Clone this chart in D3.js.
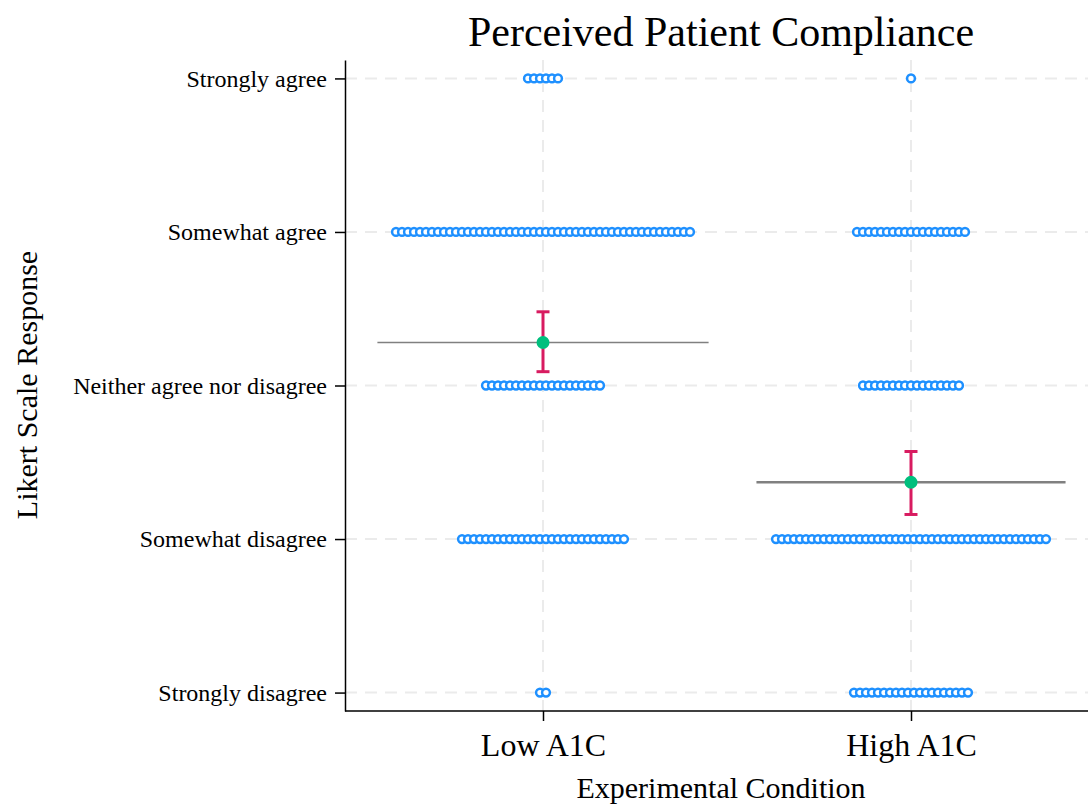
<!DOCTYPE html>
<html>
<head>
<meta charset="utf-8">
<script src="https://cdn.jsdelivr.net/npm/d3@7"></script>
<style>
  body { margin: 0; background: #ffffff; }
  text { font-family: "Liberation Serif", "Times New Roman", serif; fill: #000; }
</style>
</head>
<body>
<div id="chart"></div>
<script>
// Likert levels, bottom (1) to top (5)
const levels = ["Strongly disagree", "Somewhat disagree", "Neither agree nor disagree", "Somewhat agree", "Strongly agree"]
const conditions = ["Low A1C", "High A1C"]

// number of respondents at each level (same order as levels), per condition
const lowCounts = [2, 28, 20, 50, 6]
const highCounts = [20, 46, 17, 19, 1]

// summary marks
const meanValues = [3.28, 2.37]
const ciLower = [3.09, 2.16]
const ciUpper = [3.48, 2.57]
const meanLineHalfWidth = [0.45, 0.42]

function drawChart() {
    const width = 1088
    const height = 807

    const dimensions = {
        width: width,
        height: height,
        plotLeft: 345,
        plotRight: 1088,
        plotTop: 60,
        plotBottom: 711
    }

    const svg = d3.select("#chart").append("svg")
        .attr("width", dimensions.width)
        .attr("height", dimensions.height)

    const yScale = d3.scaleLinear()
        .domain([0.88, 5.12])
        .range([dimensions.plotBottom, dimensions.plotTop])

    // condition index 1,2 on a continuous scale so dots can be offset in data units
    const xScale = d3.scaleLinear()
        .domain([1, 2])
        .range([543, 911])

    const dotStep = 6 / (xScale(2) - xScale(1))

    // grid
    const grid = svg.append("g")
    grid.selectAll(".hgrid")
        .data(levels)
        .join("line")
        .attr("x1", dimensions.plotLeft)
        .attr("x2", dimensions.plotRight)
        .attr("y1", (d, i) => yScale(i + 1))
        .attr("y2", (d, i) => yScale(i + 1))
        .attr("stroke", "#ebebeb")
        .attr("stroke-width", 2)
        .attr("stroke-dasharray", "12,8")
    grid.selectAll(".vgrid")
        .data(conditions)
        .join("line")
        .attr("x1", (d, i) => xScale(i + 1))
        .attr("x2", (d, i) => xScale(i + 1))
        .attr("y1", dimensions.plotTop)
        .attr("y2", dimensions.plotBottom)
        .attr("stroke", "#ebebeb")
        .attr("stroke-width", 2)
        .attr("stroke-dasharray", "12,8")

    // axes
    const yAxis = d3.axisLeft(yScale)
        .tickValues([1, 2, 3, 4, 5])
        .tickFormat(d => levels[d - 1])
        .tickSizeInner(10)
        .tickSizeOuter(0)
        .tickPadding(8)
    const yAxisGroup = svg.append("g")
        .attr("transform", `translate(${dimensions.plotLeft},0)`)
        .call(yAxis)
    yAxisGroup.select(".domain").attr("stroke", "#000").attr("stroke-width", 1.5)
    yAxisGroup.selectAll(".tick line").attr("stroke", "#000").attr("stroke-width", 1.5)
    yAxisGroup.selectAll(".tick text")
        .style("font-family", "Liberation Serif")
        .style("font-size", "24px")
        .attr("fill", "#000")

    const xAxis = d3.axisBottom(xScale)
        .tickValues([1, 2])
        .tickFormat(d => conditions[d - 1])
        .tickSizeInner(10)
        .tickSizeOuter(0)
        .tickPadding(12)
    const xAxisGroup = svg.append("g")
        .attr("transform", `translate(0,${dimensions.plotBottom})`)
        .call(xAxis)
    xAxisGroup.select(".domain")
        .attr("d", `M${dimensions.plotLeft},0H${dimensions.plotRight}`)
        .attr("stroke", "#000").attr("stroke-width", 1.5)
    xAxisGroup.selectAll(".tick line").attr("stroke", "#000").attr("stroke-width", 1.5)
    xAxisGroup.selectAll(".tick text")
        .style("font-family", "Liberation Serif")
        .style("font-size", "32px")
        .attr("fill", "#000")

    // dots: stacked side by side, centred on the condition
    const dotData = []
    ;[lowCounts, highCounts].forEach(function (counts, c) {
        counts.forEach(function (n, l) {
            for (let i = 0; i < n; i++) {
                dotData.push({ x: c + 1 + (i - (n - 1) / 2) * dotStep, y: l + 1 })
            }
        })
    })

    svg.append("g").selectAll("circle")
        .data(dotData)
        .join("circle")
        .attr("cx", d => xScale(d.x))
        .attr("cy", d => yScale(d.y))
        .attr("r", 3.9)
        .attr("fill", "#fff")
        .attr("stroke", "#1E90FF")
        .attr("stroke-width", 2.5)

    // mean lines
    const summary = conditions.map((c, i) => ({
        x: i + 1,
        mean: meanValues[i],
        lo: ciLower[i],
        hi: ciUpper[i],
        half: meanLineHalfWidth[i]
    }))

    svg.append("g").selectAll("line")
        .data(summary)
        .join("line")
        .attr("x1", d => xScale(d.x - d.half))
        .attr("x2", d => xScale(d.x + d.half))
        .attr("y1", d => yScale(d.mean))
        .attr("y2", d => yScale(d.mean))
        .attr("stroke", "#808080")
        .attr("stroke-width", (d, i) => i === 0 ? 1.5 : 2.5)

    // error bars
    const err = svg.append("g").attr("stroke", "#D81B60").attr("stroke-width", 3)
    err.selectAll(".bar")
        .data(summary)
        .join("line")
        .attr("x1", d => xScale(d.x))
        .attr("x2", d => xScale(d.x))
        .attr("y1", d => yScale(d.lo))
        .attr("y2", d => yScale(d.hi))
    err.selectAll(".capTop")
        .data(summary)
        .join("line")
        .attr("x1", d => xScale(d.x) - 6.5)
        .attr("x2", d => xScale(d.x) + 6.5)
        .attr("y1", d => yScale(d.hi))
        .attr("y2", d => yScale(d.hi))
    err.selectAll(".capBottom")
        .data(summary)
        .join("line")
        .attr("x1", d => xScale(d.x) - 6.5)
        .attr("x2", d => xScale(d.x) + 6.5)
        .attr("y1", d => yScale(d.lo))
        .attr("y2", d => yScale(d.lo))

    svg.append("g").selectAll("circle")
        .data(summary)
        .join("circle")
        .attr("cx", d => xScale(d.x))
        .attr("cy", d => yScale(d.mean))
        .attr("r", 6.5)
        .attr("fill", "#00BF7D")

    // titles
    svg.append("text")
        .attr("x", 721)
        .attr("y", 46)
        .attr("text-anchor", "middle")
        .style("font-size", "42px")
        .text("Perceived Patient Compliance")

    svg.append("text")
        .attr("x", 721)
        .attr("y", 798)
        .attr("text-anchor", "middle")
        .style("font-size", "30px")
        .text("Experimental Condition")

    svg.append("text")
        .attr("transform", `translate(37,385) rotate(-90)`)
        .attr("text-anchor", "middle")
        .style("font-size", "30px")
        .text("Likert Scale Response")
}

drawChart()
</script>
</body>
</html>
